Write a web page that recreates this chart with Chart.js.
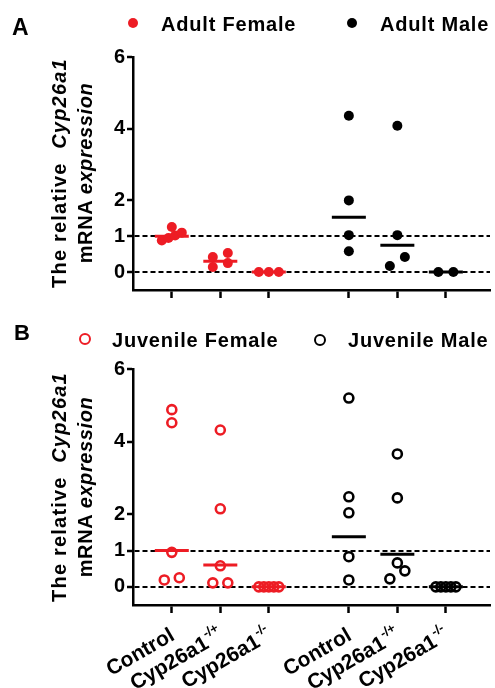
<!DOCTYPE html>
<html>
<head>
<meta charset="utf-8">
<script src="https://cdn.jsdelivr.net/npm/chart.js@4.4.1/dist/chart.umd.min.js"></script>
<style>
  body { margin: 0; background: #fff; }
  #wrap { position: relative; width: 495px; height: 688px; font-family: "Liberation Sans", Arial, sans-serif; font-weight: bold; color: #000; }
  #wrap canvas { position: absolute; left: 0; }
  .txt { position: absolute; white-space: nowrap; line-height: 1; }
  .leg { font-size: 20px; letter-spacing: 0.8px; }
  .dot { position: absolute; border-radius: 50%; box-sizing: border-box; }
  .ytitle { position: absolute; width: 280px; height: 52px; line-height: 26px; font-size: 20px; text-align: center; transform: rotate(-90deg); white-space: nowrap; }
  .ytitle .l1 { letter-spacing: 1.2px; }
  .ytitle .l2 { letter-spacing: 0.6px; }
</style>
</head>
<body>
<div id="wrap">
  <canvas id="chartA" width="495" height="300" style="top:0"></canvas>
  <canvas id="chartB" width="495" height="388" style="top:300px"></canvas>

  <div class="txt" style="left:12px;top:16px;font-size:23px">A</div>
  <div class="dot" style="left:128px;top:18px;width:10px;height:10px;background:#ed1c24"></div>
  <div class="txt leg" style="left:161px;top:14px">Adult Female</div>
  <div class="dot" style="left:347px;top:18px;width:10px;height:10px;background:#000"></div>
  <div class="txt leg" style="left:380px;top:14px">Adult Male</div>
  <div class="ytitle" style="left:-68px;top:147px"><span class="l1">The relative&nbsp; <i>Cyp26a1</i></span><br><span class="l2">mRNA <i>expression</i></span></div>

  <div class="txt" style="left:14px;top:322px;font-size:22px">B</div>
  <div class="dot" style="left:79px;top:333px;width:12px;height:12px;border:2.6px solid #ed1c24"></div>
  <div class="txt leg" style="left:112px;top:330px">Juvenile Female</div>
  <div class="dot" style="left:314px;top:334px;width:12px;height:12px;border:2.6px solid #000"></div>
  <div class="txt leg" style="left:348px;top:330px">Juvenile Male</div>
  <div class="ytitle" style="left:-68px;top:461px"><span class="l1">The relative&nbsp; <i>Cyp26a1</i></span><br><span class="l2">mRNA <i>expression</i></span></div>
</div>

<script>
const RED = '#ed1c24';

// categories: female groups then male groups
const groupNames = ['Control', 'Cyp26a1', 'Cyp26a1', 'Control', 'Cyp26a1', 'Cyp26a1'];
const groupSup = ['', '-/+', '-/-', '', '-/+', '-/-'];
const yTicks = [0, 1, 2, 4, 6];

// relative expression per genotype (Control, -/+, -/-)
const adultFemale = [[0.88, 0.95, 1.02, 1.1, 1.26], [0.14, 0.25, 0.42, 0.53], [0, 0, 0]];
const adultMale = [[0.58, 1.03, 2.0, 4.36], [0.17, 0.42, 1.03, 4.08], [0, 0]];
const adultFemaleLine = [1.0, 0.3, 0];
const adultMaleLine = [1.53, 0.75, 0];

const juvFemale = [[0.19, 0.25, 0.95, 4.52, 4.88], [0.11, 0.11, 0.58, 2.15, 4.32], [0, 0, 0, 0, 0]];
const juvMale = [[0.19, 0.83, 2.04, 2.48, 5.2], [0.22, 0.44, 0.66, 2.45, 3.66], [0, 0, 0, 0, 0]];
const juvFemaleLine = [1.0, 0.6, 0];
const juvMaleLine = [1.38, 0.9, 0];

// x layout: where each category sits on the linear x axis
const groupX = [1, 2, 3, 4.65, 5.65, 6.65];
const X_MIN = 0.2, X_MAX = 7.56;
const PX_PER_X = 48.5;

// simple swarm: points with close values are spread side by side
function swarm(vals, x0) {
  const s = [...vals].sort((a, b) => a - b);
  const out = [];
  let i = 0;
  while (i < s.length) {
    let j = i;
    while (j < s.length && s[j] - s[i] < 0.26) j++;
    const n = j - i;
    const step = n > 1 ? Math.min(15, 20 / (n - 1)) / PX_PER_X : 0;
    for (let k = i; k < j; k++) out.push({ x: x0 + (k - i - (n - 1) / 2) * step, y: s[k] });
    i = j;
  }
  return out;
}

function pts(groups, offset) {
  return groups.flatMap((g, i) => swarm(g, groupX[offset + i]));
}

function linePts(vals, offset) {
  return vals.map((v, i) => ({ x: groupX[offset + i], y: v }));
}

const xLabelPlugin = {
  id: 'xLabels',
  afterDraw(chart) {
    const { ctx, scales: { x }, chartArea } = chart;
    ctx.save();
    ctx.fillStyle = '#000';
    groupX.forEach((gx, i) => {
      const px = x.getPixelForValue(gx);
      ctx.save();
      ctx.translate(px + 4, chartArea.bottom + 34);
      ctx.rotate(-Math.PI / 6);
      ctx.textAlign = 'right';
      ctx.textBaseline = 'alphabetic';
      let w = 0;
      if (groupSup[i]) {
        ctx.font = 'bold 13px "Liberation Sans"';
        ctx.fillText(groupSup[i], 0, -10);
        w = ctx.measureText(groupSup[i]).width + 1;
      }
      ctx.font = 'bold 21px "Liberation Sans"';
      ctx.fillText(groupNames[i], -w, 0);
      ctx.restore();
    });
    ctx.restore();
  }
};

function makePanel(id, female, male, fLine, mLine, filled, padTop, xHeight, labels) {
  const pointDs = (data, color) => ({
    data: data,
    pointStyle: 'circle',
    pointRadius: filled ? 5 : 4.5,
    pointBorderWidth: filled ? 0 : 2.6,
    pointBackgroundColor: filled ? color : 'rgba(0,0,0,0)',
    pointBorderColor: color
  });
  const lineDs = (data, color) => ({
    data: data,
    pointStyle: 'line',
    pointRadius: 17,
    pointBorderWidth: 3,
    pointBorderColor: color
  });
  new Chart(document.getElementById(id), {
    type: 'scatter',
    data: {
      datasets: [
        pointDs(pts(female, 0), RED),
        pointDs(pts(male, 3), '#000'),
        lineDs(linePts(fLine, 0), RED),
        lineDs(linePts(mLine, 3), '#000')
      ]
    },
    options: {
      responsive: false,
      animation: false,
      events: [],
      layout: { autoPadding: false, padding: { top: padTop, right: 5, left: 0, bottom: 0 } },
      plugins: { legend: { display: false }, tooltip: { enabled: false } },
      scales: {
        x: {
          type: 'linear',
          min: X_MIN,
          max: X_MAX,
          afterBuildTicks: s => { s.ticks = groupX.map(v => ({ value: v })); },
          afterFit: s => { s.height = xHeight; s.paddingLeft = 0; s.paddingRight = 0; },
          ticks: { display: false },
          grid: { drawOnChartArea: false, tickLength: 8, tickWidth: 2.5, tickColor: '#000' },
          border: { color: '#000', width: 2.5 }
        },
        y: {
          min: -0.5,
          max: 6,
          afterBuildTicks: s => { s.ticks = yTicks.map(v => ({ value: v })); },
          afterFit: s => { s.width = 133; s.paddingTop = 0; s.paddingBottom = 0; },
          ticks: { color: '#000', padding: 2, font: { family: 'Liberation Sans', weight: 'bold', size: 20 } },
          grid: {
            color: c => (c.tick && (c.tick.value === 0 || c.tick.value === 1)) ? '#000' : 'rgba(0,0,0,0)',
            lineWidth: 2,
            tickLength: 6,
            tickWidth: 2.5,
            tickColor: '#000'
          },
          border: { color: '#000', width: 2.5, dash: [5, 3] }
        }
      }
    },
    plugins: labels ? [xLabelPlugin] : []
  });
}

makePanel('chartA', adultFemale, adultMale, adultFemaleLine, adultMaleLine, true, 57, 10, false);
makePanel('chartB', juvFemale, juvMale, juvFemaleLine, juvMaleLine, false, 69, 83, true);
</script>
</body>
</html>
